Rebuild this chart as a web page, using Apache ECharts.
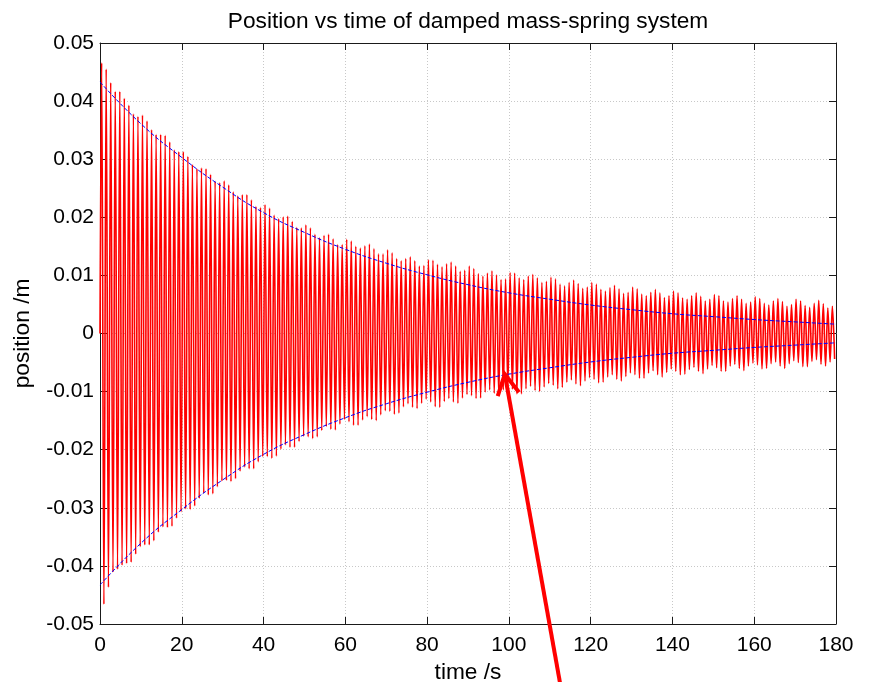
<!DOCTYPE html>
<html><head><meta charset="utf-8">
<script src="https://cdn.jsdelivr.net/npm/echarts/dist/echarts.min.js"></script>
<style>html,body{margin:0;padding:0;background:#fff}#c{width:875px;height:682px}</style>
</head><body><div id="c"></div><script>
// ---- data ----
const titleText = 'Position vs time of damped mass-spring system';
const xName = 'time /s';
const yName = 'position /m';
const xTicks = [0, 20, 40, 60, 80, 100, 120, 140, 160, 180];
const yTicks = [-0.05, -0.04, -0.03, -0.02, -0.01, 0, 0.01, 0.02, 0.03, 0.04, 0.05];

// oscillation: start value, period (s) and the times of the first crest / trough
const startValue = 0;
const periodS = 1.11;
const firstCrestS = 0.40;
const firstTroughS = 0.955;
// successive crest heights (m)
const crests = [
0.0466,0.0455,0.0432,0.0417,0.0417,0.0405,0.0393,0.0378,0.0374,0.0376,
0.0366,0.0351,0.0343,0.0343,0.0341,0.0330,0.0316,0.0313,0.0313,0.0305,
0.0291,0.0284,0.0285,0.0284,0.0274,0.0262,0.0260,0.0263,0.0256,0.0244,
0.0237,0.0239,0.0239,0.0230,0.0219,0.0217,0.0222,0.0216,0.0204,0.0198,
0.0201,0.0202,0.0193,0.0183,0.0182,0.0187,0.0182,0.0171,0.0165,0.0169,
0.0171,0.0163,0.0153,0.0153,0.0162,0.0159,0.0150,0.0147,0.0151,0.0154,
0.0146,0.0137,0.0137,0.0144,0.0139,0.0129,0.0125,0.0129,0.0132,0.0125,
0.0116,0.0117,0.0127,0.0126,0.0119,0.0115,0.0120,0.0123,0.0116,0.0107,
0.0109,0.0116,0.0112,0.0103,0.0099,0.0104,0.0108,0.0101,0.0093,0.0094,
0.0105,0.0104,0.0096,0.0093,0.0099,0.0102,0.0096,0.0088,0.0090,0.0097,
0.0094,0.0085,0.0082,0.0088,0.0092,0.0086,0.0078,0.0080,0.0088,0.0085,
0.0076,0.0073,0.0079,0.0083,0.0077,0.0069,0.0071,0.0080,0.0077,0.0068,
0.0065,0.0071,0.0076,0.0070,0.0062,0.0065,0.0073,0.0070,0.0061,0.0059,
0.0065,0.0070,0.0064,0.0056,0.0059,0.0067,0.0065,0.0056,0.0054,0.0060,
0.0065,0.0059,0.0052,0.0054,0.0063,0.0060,0.0052,0.0049,0.0056,0.0060,
0.0055,0.0047,0.0050,0.0059,0.0056,0.0048,0.0045,0.0052,0.0057,0.0051,
0.0044,0.0047];
// successive trough depths (m)
const troughs = [
-0.0466,-0.0437,-0.0411,-0.0406,-0.0399,-0.0396,-0.0394,-0.0380,-0.0367,-0.0364,
-0.0364,-0.0357,-0.0342,-0.0333,-0.0334,-0.0332,-0.0318,-0.0307,-0.0302,-0.0303,
-0.0297,-0.0284,-0.0275,-0.0278,-0.0276,-0.0264,-0.0254,-0.0253,-0.0255,-0.0250,
-0.0237,-0.0230,-0.0233,-0.0233,-0.0221,-0.0212,-0.0212,-0.0215,-0.0211,-0.0199,
-0.0192,-0.0196,-0.0196,-0.0186,-0.0177,-0.0178,-0.0181,-0.0178,-0.0167,-0.0160,
-0.0165,-0.0166,-0.0156,-0.0148,-0.0152,-0.0158,-0.0158,-0.0149,-0.0143,-0.0148,
-0.0150,-0.0140,-0.0133,-0.0134,-0.0139,-0.0137,-0.0126,-0.0121,-0.0127,-0.0129,
-0.0120,-0.0113,-0.0118,-0.0126,-0.0127,-0.0117,-0.0112,-0.0118,-0.0120,-0.0111,
-0.0105,-0.0107,-0.0112,-0.0111,-0.0101,-0.0097,-0.0103,-0.0106,-0.0097,-0.0091,
-0.0096,-0.0104,-0.0104,-0.0095,-0.0091,-0.0098,-0.0100,-0.0092,-0.0086,-0.0089,
-0.0095,-0.0093,-0.0084,-0.0080,-0.0087,-0.0090,-0.0082,-0.0076,-0.0079,-0.0085,
-0.0084,-0.0075,-0.0071,-0.0079,-0.0082,-0.0074,-0.0068,-0.0071,-0.0077,-0.0077,
-0.0068,-0.0064,-0.0071,-0.0075,-0.0067,-0.0061,-0.0065,-0.0071,-0.0070,-0.0062,
-0.0058,-0.0065,-0.0069,-0.0061,-0.0055,-0.0059,-0.0065,-0.0065,-0.0056,-0.0053,
-0.0060,-0.0064,-0.0056,-0.0051,-0.0054,-0.0061,-0.0060,-0.0052,-0.0049,-0.0056,
-0.0060,-0.0052,-0.0047,-0.0050,-0.0057,-0.0057,-0.0048,-0.0045,-0.0053,-0.0056,
-0.0049,-0.0044];

// blue dashed envelope, read every 10 s
const envTimes = [0,10,20,30,40,50,60,70,80,90,100,110,120,130,140,150,160,170,180];
const envUpper = [0.0433,0.0361,0.0303,0.0252,0.0208,0.0174,0.0145,0.0121,0.0101,0.0084,0.0070,0.0059,0.0049,0.0041,0.0034,0.0029,0.0024,0.0020,0.0016];
const envLower = [-0.0433,-0.0361,-0.0303,-0.0252,-0.0208,-0.0174,-0.0145,-0.0121,-0.0101,-0.0084,-0.0070,-0.0059,-0.0049,-0.0041,-0.0034,-0.0029,-0.0024,-0.0020,-0.0016];

// annotation arrow (data coordinates)
const arrowTip = [99, -0.0070];
const arrowTail = [112.6, -0.0605];

// ---- build ----
const signal = [[0, startValue]];
for (let k = 0; k < crests.length; k++) {
  signal.push([firstCrestS + k * periodS, crests[k]]);
  if (k < troughs.length) signal.push([firstTroughS + k * periodS, troughs[k]]);
}
const upperEnv = envTimes.map((t, i) => [t, envUpper[i]]);
const lowerEnv = envTimes.map((t, i) => [t, envLower[i]]);

const FONT = "'Liberation Sans', Arial, Helvetica, sans-serif";
const AX = '#1a1a1a';
const TICK_FS = 21, NAME_FS = 22.7;
const xMin = xTicks[0], xMax = xTicks[xTicks.length - 1], xInt = xTicks[1] - xTicks[0];
const yMin = yTicks[0], yMax = yTicks[yTicks.length - 1], yInt = +(yTicks[1] - yTicks[0]).toFixed(4);
const fmtY = v => { const r = Math.round(v * 100) / 100; return r === 0 ? '0' : String(r); };

const chart = echarts.init(document.getElementById('c'), null, {renderer: 'canvas'});
const axisCommon = {
  type: 'value',
  axisLine: {show: true, onZero: false, lineStyle: {color: AX, width: 1}},
  axisTick: {show: true, inside: true, length: 7, lineStyle: {color: AX}},
};
chart.setOption({
  animation: false,
  backgroundColor: '#fff',
  title: {
    text: titleText, left: 463, top: 5, textAlign: 'center',
    textStyle: {fontFamily: FONT, fontSize: NAME_FS, fontWeight: 'normal', color: '#000'}
  },
  grid: {left: 100, right: 39, top: 43, bottom: 58, containLabel: false, outerBoundsMode: 'none'},
  xAxis: [
    Object.assign({}, axisCommon, {
      min: xMin, max: xMax, interval: xInt, position: 'bottom',
      name: xName, nameLocation: 'middle', nameGap: 34,
      nameTextStyle: {fontFamily: FONT, fontSize: NAME_FS, color: '#000'},
      axisLabel: {fontFamily: FONT, fontSize: TICK_FS, color: '#000', margin: 11},
      splitLine: {show: true, lineStyle: {color: '#c8c8c8', type: [1, 2], width: 1}}
    }),
    Object.assign({}, axisCommon, {
      min: xMin, max: xMax, interval: xInt, position: 'top',
      axisLabel: {show: false}, splitLine: {show: false}
    })
  ],
  yAxis: [
    Object.assign({}, axisCommon, {
      min: yMin, max: yMax, interval: yInt, position: 'left',
      name: yName, nameLocation: 'middle', nameGap: 66, nameRotate: 90,
      nameTextStyle: {fontFamily: FONT, fontSize: NAME_FS, color: '#000'},
      axisLabel: {fontFamily: FONT, fontSize: TICK_FS, color: '#000', margin: 6, formatter: fmtY,
                  padding: [7, 0, 0, 0]},
      splitLine: {show: true, lineStyle: {color: '#c8c8c8', type: [1, 2], width: 1}}
    }),
    Object.assign({}, axisCommon, {
      min: yMin, max: yMax, interval: yInt, position: 'right',
      axisLabel: {show: false}, splitLine: {show: false}
    })
  ],
  series: [
    {
      type: 'line', data: signal, showSymbol: false, symbol: 'none', z: 2,
      lineStyle: {color: '#ff0000', width: 1.6}, smooth: 0.35, clip: true
    },
    {
      type: 'line', data: upperEnv, showSymbol: false, symbol: 'none', z: 3, smooth: true,
      lineStyle: {color: '#0000ff', width: 1, type: [4, 2]}
    },
    {
      type: 'line', data: lowerEnv, showSymbol: false, symbol: 'none', z: 3, smooth: true,
      lineStyle: {color: '#0000ff', width: 1, type: [4, 2]}
    }
  ]
});

// arrow annotation placed through the axes' scales
const tip = chart.convertToPixel({gridIndex: 0}, arrowTip);
const tail = chart.convertToPixel({gridIndex: 0}, arrowTail);
const dx = tail[0] - tip[0], dy = tail[1] - tip[1];
const len = Math.hypot(dx, dy);
const ux = dx / len, uy = dy / len;
const headLen = 23, ang = 28 * Math.PI / 180;
function rot(x, y, a) { return [x * Math.cos(a) - y * Math.sin(a), x * Math.sin(a) + y * Math.cos(a)]; }
const a1 = rot(ux, uy, ang), a2 = rot(ux, uy, -ang);
chart.setOption({
  graphic: [
    {type: 'polyline', z: 100, shape: {points: [tail, tip]},
     style: {stroke: '#ff0000', lineWidth: 4, fill: null}},
    {type: 'polyline', z: 100, shape: {points: [
      [tip[0] + a1[0] * headLen, tip[1] + a1[1] * headLen], tip,
      [tip[0] + a2[0] * headLen, tip[1] + a2[1] * headLen]]},
     style: {stroke: '#ff0000', lineWidth: 4, fill: null, lineJoin: 'miter'}}
  ]
});
</script></body></html>
